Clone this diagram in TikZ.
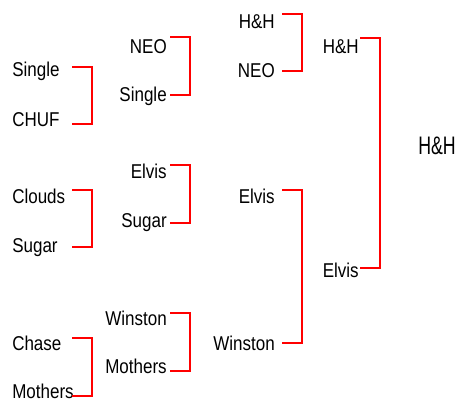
\documentclass[tikz,border=0pt]{standalone}
\usepackage{fontspec}
\setmainfont{Liberation Sans}[FakeStretch=0.85]
\newfontfamily\champfont{Liberation Sans}[FakeStretch=0.7]
\begin{document}
\begin{tikzpicture}[x=0.75pt,y=-0.75pt,
  team/.style={inner sep=0pt,font=\fontsize{15}{18}\selectfont},
  winner/.style={inner sep=0pt,font=\champfont\fontsize{19}{22}\selectfont},
  bracket/.style={red,line width=1.5pt}]
\useasboundingbox (0,0) rectangle (460,401);

\coordinate (c1) at (72,0);
\coordinate (c2) at (170,0);
\coordinate (c3) at (282,0);
\coordinate (c4) at (360,0);

% round 1
\node[team,anchor=base west] (single1) at (12,76) {Single};
\node[team,anchor=base west] (chuf1) at (12,126) {CHUF};
\node[team,anchor=base west] (clouds1) at (12,203) {Clouds};
\node[team,anchor=base west] (sugar1) at (12,252) {Sugar};
\node[team,anchor=base west] (chase1) at (12,350) {Chase};
\node[team,anchor=base west] (mothers1) at (12,398) {Mothers};

% round 2
\node[team,anchor=base east] (neo2) at (167,53) {NEO};
\node[team,anchor=base east] (single2) at (167,101) {Single};
\node[team,anchor=base east] (elvis2) at (167,178) {Elvis};
\node[team,anchor=base east] (sugar2) at (167,227) {Sugar};
\node[team,anchor=base east] (winston2) at (167,325) {Winston};
\node[team,anchor=base east] (mothers2) at (167,373) {Mothers};

% round 3
\node[team,anchor=base east] (hh3) at (275,28) {H\&H};
\node[team,anchor=base east] (neo3) at (275,77) {NEO};
\node[team,anchor=base east] (elvis3) at (275,203) {Elvis};
\node[team,anchor=base east] (winston3) at (275,350) {Winston};

% final
\node[team,anchor=base east] (hh4) at (359,53) {H\&H};
\node[team,anchor=base east] (elvis4) at (359,277) {Elvis};
\node[winner,anchor=base west] (champ) at (418,154) {H\&H};

\draw[bracket] ([yshift=6.75pt]single1.base -| c1) -- ++(20,0) |- ([yshift=1.5pt]chuf1.base -| c1);
\draw[bracket] ([yshift=9.75pt]clouds1.base -| c1) -- ++(20,0) |- ([yshift=3.75pt]sugar1.base -| c1);
\draw[bracket] ([yshift=9pt]chase1.base -| c1) -- ++(20,0) |- ([yshift=1.5pt]mothers1.base -| c1);

\draw[bracket] ([yshift=12pt]neo2.base -| c2) -- ++(20,0) |- ([yshift=4.5pt]single2.base -| c2);
\draw[bracket] ([yshift=9.75pt]elvis2.base -| c2) -- ++(20,0) |- ([yshift=3pt]sugar2.base -| c2);
\draw[bracket] ([yshift=9pt]winston2.base -| c2) -- ++(20,0) |- ([yshift=1.5pt]mothers2.base -| c2);

\draw[bracket] ([yshift=10.5pt]hh3.base -| c3) -- ++(20,0) |- ([yshift=4.5pt]neo3.base -| c3);
\draw[bracket] ([yshift=9.75pt]elvis3.base -| c3) -- ++(20,0) |- ([yshift=5.25pt]winston3.base -| c3);

\draw[bracket] ([yshift=11.25pt]hh4.base -| c4) -- ++(20,0) |- ([yshift=6.75pt]elvis4.base -| c4);

\end{tikzpicture}
\end{document}
